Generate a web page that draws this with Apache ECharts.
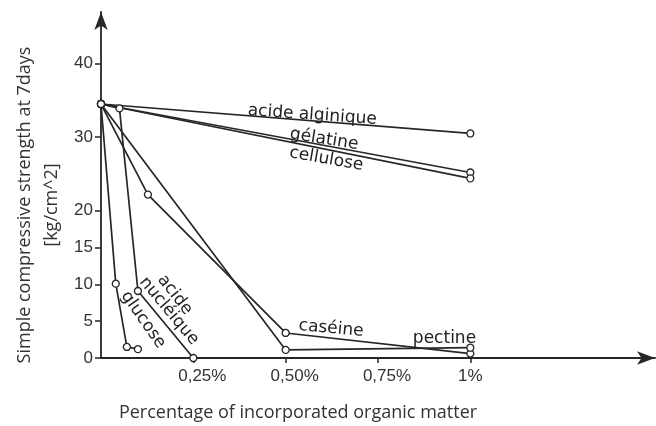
<!DOCTYPE html>
<html>
<head>
<meta charset="utf-8">
<script src="https://cdn.jsdelivr.net/npm/echarts@6/dist/echarts.min.js"></script>
<style>
  html, body { margin: 0; padding: 0; background: #fff; }
  #chart { width: 656px; height: 426px; }
</style>
</head>
<body>
<div id="chart"></div>
<script>
// values: [percentage, kg/cm^2]
const alginique = [[0, 34.5], [1, 30.5]];
const gelatine = [[0, 34.5], [1, 25.2]];
const cellulose = [[0, 34.5], [1, 24.4]];
const nucleique = [[0, 34.5], [0.05, 33.9], [0.1, 9.1], [0.25, 0]];
const glucose = [[0, 34.5], [0.04, 10.1], [0.07, 1.5], [0.1, 1.2]];
const caseine = [[0, 34.5], [0.127, 22.2], [0.5, 3.4], [1, 0.6]];
const pectine = [[0, 34.5], [0.5, 1.1], [1, 1.4]];

const yTicks = [0, 5, 10, 15, 20, 30, 40];
const xTicks = [0.25, 0.5, 0.75, 1];
const xTickLabels = ['0,25%', '0,50%', '0,75%', '1%'];

// curve names written next to the lines (anchor in data units, angle in degrees)
const curveLabels = [
  { text: 'acide alginique', at: [0.572, 33.0], angle: -4 },
  { text: 'gélatine', at: [0.604, 29.7], angle: -9 },
  { text: 'cellulose', at: [0.61, 27.0], angle: -10 },
  { text: 'caséine', at: [0.623, 4.0], angle: -5 },
  { text: 'pectine', at: [0.93, 2.7], angle: 0 },
  { text: 'acide', at: [0.2, 8.6], angle: -52 },
  { text: 'nucléique', at: [0.184, 6.4], angle: -50 },
  { text: 'glucose', at: [0.114, 5.2], angle: -55 }
];

const ink = '#262626';
const chart = echarts.init(document.getElementById('chart'));

function curve(name, data) {
  return {
    name: name,
    type: 'line',
    data: data,
    symbol: 'circle',
    symbolSize: 7,
    showAllSymbol: true,
    lineStyle: { color: ink, width: 1.7 },
    itemStyle: { color: '#fff', borderColor: ink, borderWidth: 1.3 },
    z: 3,
    animation: false
  };
}

chart.setOption({
  backgroundColor: '#fff',
  animation: false,
  grid: { left: 101, right: 1, top: 12, bottom: 68 },
  xAxis: {
    type: 'value',
    min: 0,
    max: 1.5,
    splitLine: { show: false },
    axisLine: {
      onZero: false,
      symbol: ['none', 'arrow'],
      symbolSize: [10, 18],
      lineStyle: { color: ink, width: 1.8 }
    },
    axisTick: { customValues: xTicks, length: 5, lineStyle: { color: ink, width: 1.5 } },
    axisLabel: {
      customValues: xTicks,
      margin: 10,
      color: '#333',
      fontFamily: 'Liberation Sans',
      fontSize: 17,
      // the decimal labels sit a little right of their tick in the original
      formatter: v => {
        const t = xTickLabels[xTicks.indexOf(v)] || '';
        return v < 1 ? '{d|' + t + '}' : t;
      },
      rich: {
        d: { fontFamily: 'Liberation Sans', fontSize: 17, color: '#333', padding: [0, 0, 0, 18] }
      }
    }
  },
  yAxis: {
    type: 'value',
    min: 0,
    max: 47,
    splitLine: { show: false },
    axisLine: {
      onZero: false,
      symbol: ['none', 'arrow'],
      symbolSize: [10, 18],
      lineStyle: { color: ink, width: 1.8 }
    },
    axisTick: { customValues: yTicks, length: 6, lineStyle: { color: ink, width: 1.5 } },
    axisLabel: {
      customValues: yTicks,
      margin: 8,
      color: '#333',
      fontFamily: 'Liberation Sans',
      fontSize: 17
    }
  },
  series: [
    curve('acide alginique', alginique),
    curve('gélatine', gelatine),
    curve('cellulose', cellulose),
    curve('acide nucléique', nucleique),
    curve('glucose', glucose),
    curve('caséine', caseine),
    curve('pectine', pectine)
  ]
});

// place the hand lettering and the axis titles once the scales exist
const texts = curveLabels.map(l => {
  const p = chart.convertToPixel({ gridIndex: 0 }, l.at);
  return {
    type: 'text',
    x: p[0],
    y: p[1],
    rotation: l.angle * Math.PI / 180,
    style: {
      text: l.text,
      fill: '#222',
      font: '17px "DejaVu Sans"',
      align: 'center',
      verticalAlign: 'middle'
    },
    z: 10
  };
});

texts.push({
  type: 'text',
  x: 38,
  y: 205,
  rotation: Math.PI / 2,
  style: {
    text: 'Simple compressive strength at 7days\n[kg/cm^2]',
    fill: '#333',
    font: '18px "Open Sans"',
    align: 'center',
    verticalAlign: 'middle',
    lineHeight: 27
  }
});
texts.push({
  type: 'text',
  x: 298,
  y: 413,
  style: {
    text: 'Percentage of incorporated organic matter',
    fill: '#333',
    font: '18px "Open Sans"',
    align: 'center',
    verticalAlign: 'middle'
  }
});

chart.setOption({ graphic: texts });
</script>
</body>
</html>
